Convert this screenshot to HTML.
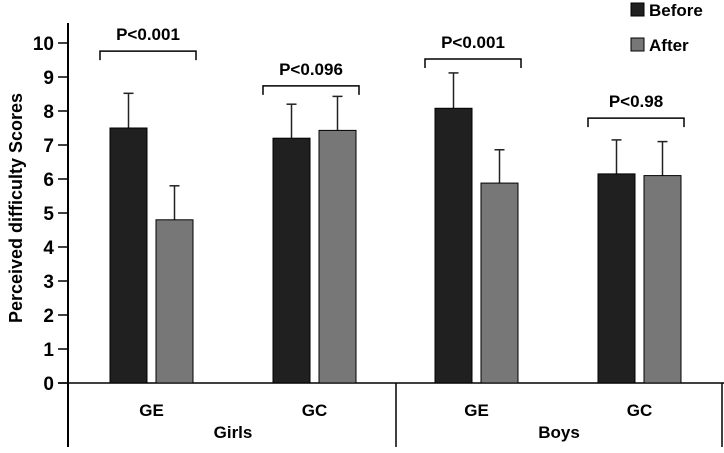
<!DOCTYPE html>
<html><head><meta charset="utf-8"><style>
body{margin:0;background:#fff}
svg{display:block;font-family:"Liberation Sans",Arial,sans-serif;font-weight:bold}
</style></head><body>
<svg id="chart" width="724" height="453" viewBox="0 0 724 453" xmlns="http://www.w3.org/2000/svg"></svg>
<script>
const groups = ["Girls GE","Girls GC","Boys GE","Boys GC"];
const beforeVals = [7.5, 7.2, 8.08, 6.15];
const afterVals = [4.8, 7.43, 5.88, 6.1];
const beforeErr = [1.02, 1.0, 1.04, 1.0];
const afterErr = [1.0, 1.0, 0.98, 1.0];
const bracketLevels = [9.76, 8.74, 9.53, 7.79];
const pLabels = ["P<0.001","P<0.096","P<0.001","P<0.98"];
const yTicks = [0,1,2,3,4,5,6,7,8,9,10];

const NS="http://www.w3.org/2000/svg";
const svg=document.getElementById('chart');
function el(t,a,txt){const e=document.createElementNS(NS,t);for(const k in a)e.setAttribute(k,a[k]);if(txt!==undefined)e.textContent=txt;svg.appendChild(e);return e;}
const y0=383, unit=34;
function y(v){return y0-v*unit;}
const groupX=[110,273,435,598];
const bw=37, gap=9;

let ax=el('line',{x1:68,y1:23,x2:68,y2:447,stroke:'#000','stroke-width':2});


yTicks.forEach(t=>{
  const tk=el('line',{x1:58,y1:y(t),x2:68,y2:y(t),stroke:'#000','stroke-width':1.5});
  
  
  const lb=el('text',{x:54,y:y(t)+7,'text-anchor':'end','font-size':19},t);
  
  
});
let yt=el('text',{x:0,y:0,'text-anchor':'middle','font-size':18,transform:'translate(22,208) rotate(-90)'},'Perceived difficulty Scores');



let bl=el('line',{x1:58,y1:y0,x2:724,y2:y0,stroke:'#000','stroke-width':1.5});


let dv=el('line',{x1:396,y1:y0,x2:396,y2:447,stroke:'#000','stroke-width':1.5});


let re=el('line',{x1:722,y1:y0,x2:722,y2:447,stroke:'#000','stroke-width':1.5});



groups.forEach((g,i)=>{
  const xb=groupX[i], xa=xb+bw+gap;
  [[xb,beforeVals[i],beforeErr[i],'#202020','bar-before'],[xa,afterVals[i],afterErr[i],'#777','bar-after']].forEach(([x,v,e,c,n])=>{
    const cx=x+bw/2;
    const er=el('line',{x1:cx,y1:y(v),x2:cx,y2:y(v+e),stroke:'#222','stroke-width':1.5});
    
    
    const ec=el('line',{x1:cx-5,y1:y(v+e),x2:cx+5,y2:y(v+e),stroke:'#222','stroke-width':1.5});
    
    
    const r=el('rect',{x:x,y:y(v),width:bw,height:v*unit,fill:c,stroke:'#000','stroke-width':1});
    
    
  });
  const by=y(bracketLevels[i]);
  const bx1=xb-10, bx2=xa+bw+3;
  const br=el('path',{d:`M${bx1} ${by+9}V${by}H${bx2}V${by+9}`,fill:'none',stroke:'#000','stroke-width':1.5});
  
  
  const pt=el('text',{x:(bx1+bx2)/2,y:by-11,'text-anchor':'middle','font-size':17},pLabels[i]);
  
  
  const cl=el('text',{x:(xb+xa+bw)/2,y:416,'text-anchor':'middle','font-size':17},g.split(' ')[1]);
  
  
});
let gl=el('text',{x:233,y:438,'text-anchor':'middle','font-size':17},'Girls');


let bo=el('text',{x:559,y:438,'text-anchor':'middle','font-size':17},'Boys');



[['Before','#202020',3],['After','#777',38]].forEach(([t,c,yy])=>{
  const s=el('rect',{x:631,y:yy,width:13,height:13,fill:c,stroke:'#000','stroke-width':1});
  
  
  const l=el('text',{x:649,y:yy+13,'font-size':17},t);
  
  
});
</script>
</body></html>
